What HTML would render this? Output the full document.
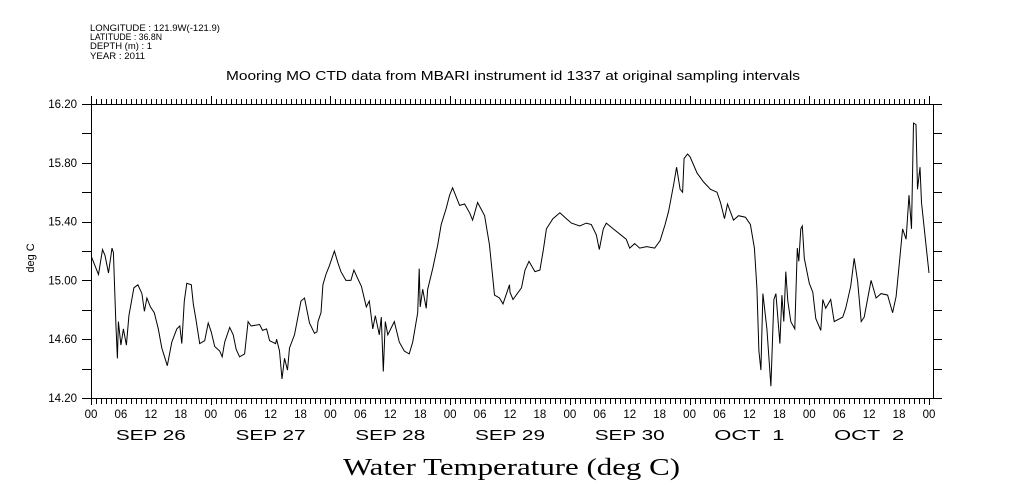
<!DOCTYPE html>
<html><head><meta charset="utf-8"><style>
body{margin:0;background:#fff;}
svg{display:block;font-family:"Liberation Sans",sans-serif;}
</style></head><body>
<svg id="chart" width="1009" height="504" viewBox="0 0 1009 504">
<g font-size="9" fill="#000">
<text x="90" y="31" textLength="130" lengthAdjust="spacingAndGlyphs">LONGITUDE : 121.9W(-121.9)</text>
<text x="90" y="40" textLength="72" lengthAdjust="spacingAndGlyphs">LATITUDE : 36.8N</text>
<text x="90" y="49" textLength="62" lengthAdjust="spacingAndGlyphs">DEPTH (m) : 1</text>
<text x="90" y="59" textLength="55" lengthAdjust="spacingAndGlyphs">YEAR : 2011</text>
</g>
<text x="226" y="80" textLength="574" lengthAdjust="spacingAndGlyphs" font-size="13">Mooring MO CTD data from MBARI instrument id 1337 at original sampling intervals</text>
<text transform="translate(34,258) rotate(-90)" text-anchor="middle" font-size="11">deg C</text>
<text x="343" y="475" textLength="337" lengthAdjust="spacingAndGlyphs" font-size="24" font-family="Liberation Serif, serif">Water Temperature (deg C)</text>
<g id="axes"></g>
<g id="plot"></g>
</svg>
<script>
const hours=[0.1,1.5,2.3,2.8,3.5,4.2,4.5,5.0,5.3,5.5,6.0,6.5,7.1,7.6,8.6,9.4,10.2,10.7,11.2,11.9,12.7,13.5,14.2,15.3,16.2,17.2,17.8,18.2,18.7,19.2,20.1,20.5,21.0,21.8,22.8,23.5,24.1,24.8,25.8,26.3,26.8,27.8,28.5,29.1,29.8,30.8,31.5,32.1,33.8,34.4,35.2,35.8,37.0,37.2,37.8,38.3,38.8,39.4,39.8,40.8,42.1,42.8,43.8,44.8,45.3,45.5,46.1,46.5,47.1,47.8,48.8,49.5,50.1,51.1,52.1,52.7,53.5,54.2,55.2,55.8,56.5,57.0,57.8,58.2,58.6,59.0,59.5,60.8,61.8,62.8,63.8,64.5,65.5,65.8,66.0,66.5,67.2,67.5,68.5,69.5,70.2,71.2,71.9,72.5,73.9,74.9,75.9,76.5,77.5,78.9,79.9,80.9,81.9,82.6,83.9,84.0,84.6,86.3,87.0,87.8,89.0,90.0,90.7,91.3,92.6,94.0,95.3,96.3,98.0,99.3,100.3,101.3,101.9,102.7,103.3,104.7,107.3,108.0,109.0,110.0,111.4,113.0,114.1,115.1,115.8,116.8,117.4,118.1,118.6,118.9,119.6,120.1,121.5,122.8,124.2,125.5,126.2,127.0,127.6,128.8,129.8,131.2,132.2,133.0,133.5,133.9,134.3,134.7,135.2,135.5,136.3,136.9,137.3,138.1,138.5,138.9,139.3,139.7,140.3,141.1,141.6,141.9,142.3,142.6,143.0,144.0,144.7,145.3,146.3,146.7,147.3,148.3,149.0,150.7,151.3,152.3,153.0,153.7,154.4,155.0,156.4,157.4,158.4,159.7,160.7,161.4,162.0,162.7,163.4,164.0,164.5,164.9,165.4,165.7,166.2,166.5,167.4,168.0];
const temps=[15.16,15.04,15.21,15.17,15.05,15.22,15.19,14.70,14.47,14.72,14.56,14.67,14.56,14.76,14.95,14.97,14.91,14.79,14.88,14.82,14.78,14.67,14.54,14.42,14.58,14.67,14.69,14.57,14.86,14.98,14.97,14.84,14.74,14.57,14.59,14.71,14.65,14.55,14.52,14.48,14.58,14.68,14.63,14.53,14.48,14.50,14.72,14.69,14.70,14.66,14.67,14.59,14.57,14.60,14.52,14.33,14.47,14.39,14.54,14.63,14.86,14.88,14.71,14.64,14.65,14.72,14.78,14.97,15.04,15.10,15.20,15.12,15.06,15.00,15.00,15.07,15.01,14.96,14.82,14.86,14.67,14.76,14.63,14.75,14.38,14.72,14.63,14.72,14.58,14.52,14.50,14.58,14.78,15.08,14.82,14.94,14.81,14.94,15.08,15.24,15.38,15.49,15.58,15.63,15.51,15.52,15.46,15.41,15.53,15.44,15.24,14.90,14.88,14.84,14.97,14.92,14.87,14.95,15.07,15.13,15.06,15.07,15.21,15.35,15.42,15.46,15.42,15.39,15.37,15.39,15.38,15.31,15.21,15.35,15.39,15.35,15.28,15.22,15.25,15.22,15.23,15.22,15.27,15.38,15.47,15.65,15.77,15.62,15.60,15.83,15.86,15.84,15.73,15.67,15.62,15.60,15.53,15.42,15.52,15.41,15.44,15.43,15.38,15.22,14.95,14.52,14.39,14.91,14.76,14.67,14.28,14.87,14.91,14.57,14.90,14.72,15.06,14.86,14.72,14.67,15.22,15.13,15.35,15.37,15.15,14.98,14.92,14.74,14.66,14.87,14.81,14.87,14.72,14.75,14.81,14.96,15.15,14.99,14.72,14.75,15.00,14.88,14.91,14.90,14.78,14.89,15.10,15.35,15.28,15.58,15.35,16.07,16.06,15.62,15.77,15.53,15.24,15.05];
const yTicks=["14.20","14.60","15.00","15.40","15.80","16.20"];
const hourLabels=["00","06","12","18"];
const dayLabels=["SEP 26","SEP 27","SEP 28","SEP 29","SEP 30","OCT  1","OCT  2"];

const X0=91,X1=929,Y0=398,Y1=104,XR=933;
const xs=h=>X0+(X1-X0)*h/168;
const ys=t=>Y0-(Y0-Y1)*(t-14.2)/2.0;
const NS="http://www.w3.org/2000/svg";
function mk(tag,attrs,parent,txt){const e=document.createElementNS(NS,tag);for(const k in attrs)e.setAttribute(k,attrs[k]);if(txt!==undefined)e.textContent=txt;parent.appendChild(e);return e;}
const axes=document.getElementById('axes'),plot=document.getElementById('plot');
let f=mk('rect',{x:X0+0.5,y:Y1+0.5,width:XR-X0,height:Y0-Y1,fill:'none',stroke:'#000','stroke-width':1,'shape-rendering':'crispEdges'},axes);


for(let v=14.2;v<=16.21;v+=0.2){const y=Math.round(ys(v))+0.5;
 let t=mk('line',{x1:X0-9,x2:X0,y1:y,y2:y,stroke:'#000','shape-rendering':'crispEdges'},axes);
 
 
 let r=mk('line',{x1:XR,x2:XR+9,y1:y,y2:y,stroke:'#000','shape-rendering':'crispEdges'},axes);
 
 }
yTicks.forEach(s=>{const y=ys(parseFloat(s));
 let l=mk('text',{x:X0-14,y:y+4,'text-anchor':'end','font-size':11.5},axes,s);
 
 });
for(let h=0;h<=168;h++){const x=Math.round(xs(h))+0.5;const major=h%24===0;
 let b=mk('line',{x1:x,x2:x,y1:Y0,y2:Y0+(major?7:6),stroke:'#000','shape-rendering':'crispEdges'},axes);
 
 
 let t=mk('line',{x1:x,x2:x,y1:Y1,y2:Y1-(major?8:5),stroke:'#000','shape-rendering':'crispEdges'},axes);
 
 
 if(h%6===0){let l=mk('text',{x:xs(h),y:418,'text-anchor':'middle','font-size':11.5},axes,hourLabels[(h/6)%4]);
  
  }}
dayLabels.forEach((d,i)=>{let l=mk('text',{x:xs(i*24+12)-35,y:440,'font-size':15,textLength:70,lengthAdjust:'spacingAndGlyphs'},axes,d);
 l.style.whiteSpace='pre';
 
 });
const pts=hours.map((h,i)=>xs(h).toFixed(1)+','+ys(temps[i]).toFixed(1)).join(' ');
let pl=mk('polyline',{points:pts,fill:'none',stroke:'#000','stroke-width':1},plot);


</script>
</body></html>
